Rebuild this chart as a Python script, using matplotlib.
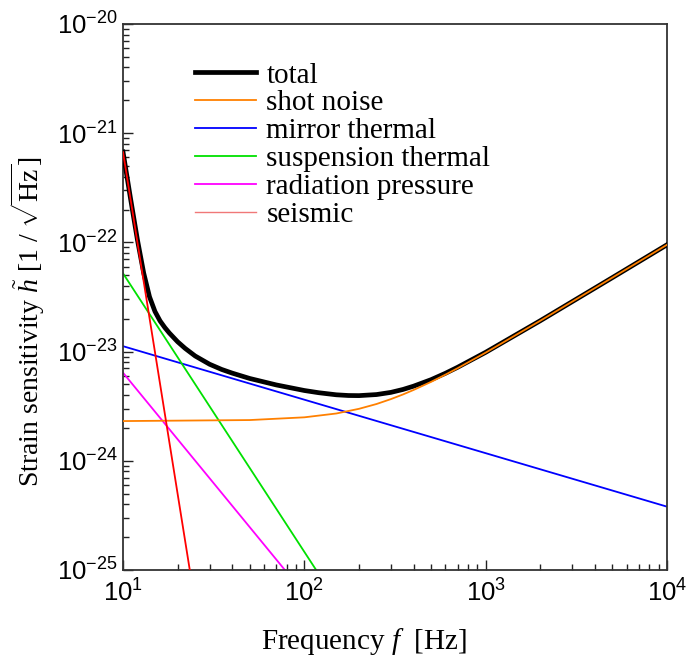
import numpy as np
import matplotlib
matplotlib.use("Agg")
import matplotlib.pyplot as plt
from matplotlib.ticker import FuncFormatter, LogLocator, NullFormatter

plt.rcParams['font.family'] = ['Liberation Serif', 'DejaVu Serif']
plt.rcParams['mathtext.fontset'] = 'custom'
plt.rcParams['mathtext.rm'] = 'Liberation Serif'
plt.rcParams['mathtext.it'] = 'Liberation Serif:italic'
plt.rcParams['mathtext.sf'] = 'Liberation Sans'

f_seismic = [10, 25]
h_seismic = [6.7e-22, 4.9e-26]

f_susp = [10, 130]
h_susp = [5.2e-23, 7.5e-26]

f_rad = [10, 90]
h_rad = [6.4e-24, 7.5e-26]

f_mirror = [10, 1e4]
h_mirror = [1.12e-23, 3.8e-25]

f_shot = [10, 50, 100, 150, 200, 250, 300, 350, 400, 500, 600, 700, 1000,
          2000, 5000, 1e4]
h_shot = [2.31e-24, 2.36e-24, 2.50e-24, 2.71e-24, 2.99e-24, 3.31e-24, 3.67e-24,
          4.05e-24, 4.45e-24, 5.28e-24, 6.15e-24, 7.04e-24, 9.78e-24,
          1.915e-23, 4.76e-23, 9.51e-23]

f_total = [10, 11, 12, 13, 14, 15, 16, 17, 18, 20, 22, 25, 30, 35, 40, 50, 70,
           100, 120, 150, 175, 200, 250, 300, 350, 400, 500, 600, 700, 1000,
           2000, 5000, 1e4]
h_total = [6.72e-22, 2.52e-22, 1.06e-22, 5.24e-23, 3.17e-23, 2.33e-23, 1.91e-23,
           1.66e-23, 1.48e-23, 1.23e-23, 1.07e-23, 9.11e-24, 7.66e-24, 6.86e-24,
           6.35e-24, 5.67e-24, 4.95e-24, 4.40e-24, 4.20e-24, 4.02e-24, 3.96e-24,
           3.95e-24, 4.04e-24, 4.23e-24, 4.50e-24, 4.82e-24, 5.53e-24, 6.33e-24,
           7.18e-24, 9.85e-24, 1.917e-23, 4.76e-23, 9.51e-23]

fig = plt.figure(figsize=(6.9, 6.64), dpi=100)
ax = fig.add_axes([0.1783, 0.1416, 0.7884, 0.8223])

ax.plot(f_total, h_total, color='black', lw=3.4, label='total', zorder=5,
        solid_joinstyle='round')
ax.plot(f_shot, h_shot, color='#ff8000', lw=1.3, label='shot noise', zorder=6)
ax.plot(f_mirror, h_mirror, color='#0000ff', lw=1.3, label='mirror thermal')
ax.plot(f_susp, h_susp, color='#00e000', lw=1.3, label='suspension thermal')
ax.plot(f_rad, h_rad, color='#ff00ff', lw=1.3, label='radiation pressure')
ax.plot(f_seismic, h_seismic, color='#ff0000', lw=1.3, label='seismic', zorder=6)

ax.set_xscale('log')
ax.set_yscale('log')
ax.set_xlim(10, 1e4)
ax.set_ylim(1e-25, 1e-20)

sci = FuncFormatter(lambda v, p: r'$\mathsf{10^{%d}}$' % round(np.log10(v)))
ax.xaxis.set_major_formatter(sci)
ax.yaxis.set_major_formatter(sci)
ax.xaxis.set_minor_locator(LogLocator(base=10, subs=np.arange(2, 10)))
ax.yaxis.set_minor_locator(LogLocator(base=10, subs=np.arange(2, 10)))
ax.xaxis.set_minor_formatter(NullFormatter())
ax.yaxis.set_minor_formatter(NullFormatter())

ax.tick_params(which='both', direction='in', top=False, right=False,
               width=1.0, colors='#222222', labelcolor='black')
ax.tick_params(which='major', length=7, labelsize=18.5)
ax.tick_params(which='minor', length=4)
ax.tick_params(axis='x', which='major', pad=7)
ax.tick_params(axis='y', which='major', pad=4)
for s in ax.spines.values():
    s.set_linewidth(1.3)
    s.set_color('#333333')

ax.set_xlabel(r'Frequency $f$  [Hz]', fontsize=21)
ax.set_ylabel(r'Strain sensitivity $\tilde{h}$ [1 / $\sqrt{\mathrm{Hz}}$]', fontsize=20)
ax.xaxis.set_label_coords(0.443, -0.103)
ax.yaxis.set_label_coords(-0.14, 0.455)

leg = ax.legend(loc='upper left', bbox_to_anchor=(0.132, 0.93), frameon=False,
                fontsize=21, handlelength=2.1, handletextpad=0.35,
                labelspacing=0.05, borderpad=0, borderaxespad=0)
leg.get_lines()[-1].set_color('#f07878')
leg.get_lines()[-1].set_linewidth(1.0)

fig.savefig('out.png', dpi=100)
